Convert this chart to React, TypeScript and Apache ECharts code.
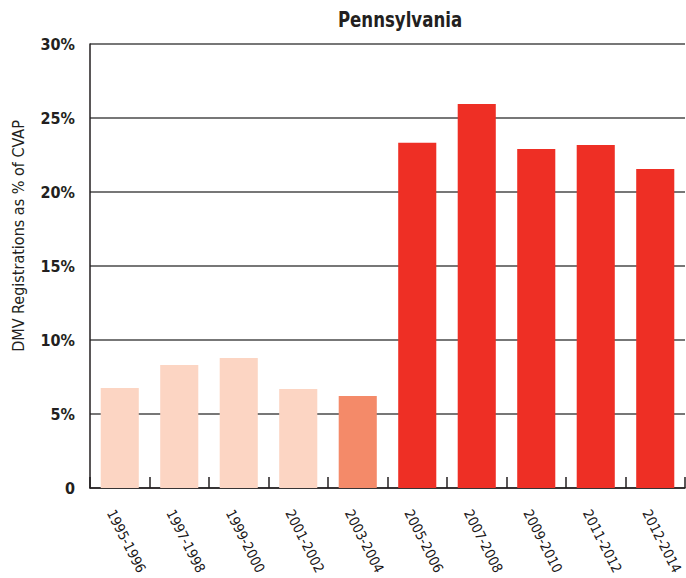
import React, { useEffect, useRef } from "react";
import * as echarts from "echarts";

const categories = [
  "1995-1996", "1997-1998", "1999-2000", "2001-2002", "2003-2004",
  "2005-2006", "2007-2008", "2009-2010", "2011-2012", "2012-2014",
];
const values = [6.76, 8.31, 8.78, 6.69, 6.22, 23.33, 25.95, 22.9, 23.18, 21.55];
const barColors = [
  "#FCD5C3", "#FCD5C3", "#FCD5C3", "#FCD5C3", "#F48A69",
  "#EE2F25", "#EE2F25", "#EE2F25", "#EE2F25", "#EE2F25",
];
const yTicks = [0, 5, 10, 15, 20, 25, 30];
const titleText = "Pennsylvania";
const yAxisTitle = "DMV Registrations as % of CVAP";

const FONT = '"Liberation Sans Narrow", "Arial Narrow", "DejaVu Sans Condensed", sans-serif';

export default function App() {
  const ref = useRef<HTMLDivElement>(null);
  useEffect(() => {
    if (!ref.current) return;
    const chart = echarts.init(ref.current, undefined, { renderer: "svg" });
    chart.setOption({
      animation: false,
      backgroundColor: "#ffffff",
      grid: {
        left: 90,
        right: 1,
        top: 44,
        bottom: 90,
        containLabel: false,
        outerBoundsMode: "none",
      },
      graphic: [
        {
          type: "text",
          x: 400,
          y: 19,
          scaleX: 0.84,
          style: {
            text: titleText,
            font: `bold 22px ${FONT}`,
            fill: "#231F20",
            textAlign: "center",
            textVerticalAlign: "middle",
          },
        },
        {
          type: "text",
          x: 18,
          y: 236,
          rotation: Math.PI / 2,
          style: {
            text: yAxisTitle,
            font: `16px ${FONT}`,
            fill: "#231F20",
            textAlign: "center",
            textVerticalAlign: "middle",
          },
        },
      ],
      xAxis: {
        type: "category",
        data: categories,
        boundaryGap: true,
        axisLine: { show: true, lineStyle: { color: "#231F20", width: 1.5 } },
        axisTick: { show: true, inside: true, length: 11, lineStyle: { color: "#231F20", width: 1.5 } },
        axisLabel: {
          interval: 0,
          rotate: -63,
          margin: 18,
          color: "#1a1718",
          fontFamily: FONT,
          fontSize: 14,
          align: "left",
          verticalAlign: "top",
          lineHeight: 20,
        },
        splitLine: { show: false },
      },
      yAxis: {
        type: "value",
        min: yTicks[0],
        max: yTicks[yTicks.length - 1],
        interval: 5,
        axisLine: { show: true, lineStyle: { color: "#231F20", width: 1.5 } },
        axisTick: { show: false },
        axisLabel: {
          margin: 15,
          color: "#231F20",
          fontFamily: FONT,
          fontWeight: "bold",
          fontSize: 16,
          padding: [0, 0, 6, 0],
          formatter: (v: number) => (v === 0 ? "0" : `${v}%`),
        },
        splitLine: { show: true, lineStyle: { color: "#4a4a4a", width: 1.5 } },
      },
      series: [
        {
          type: "bar",
          barWidth: "64%",
          data: values.map((v, i) => ({ value: v, itemStyle: { color: barColors[i] } })),
          z: 3,
        },
      ],
    });
    return () => chart.dispose();
  }, []);
  return (
    <div
      ref={ref}
      style={{ position: "absolute", left: 0, top: 0, width: 686, height: 578 }}
    />
  );
}
